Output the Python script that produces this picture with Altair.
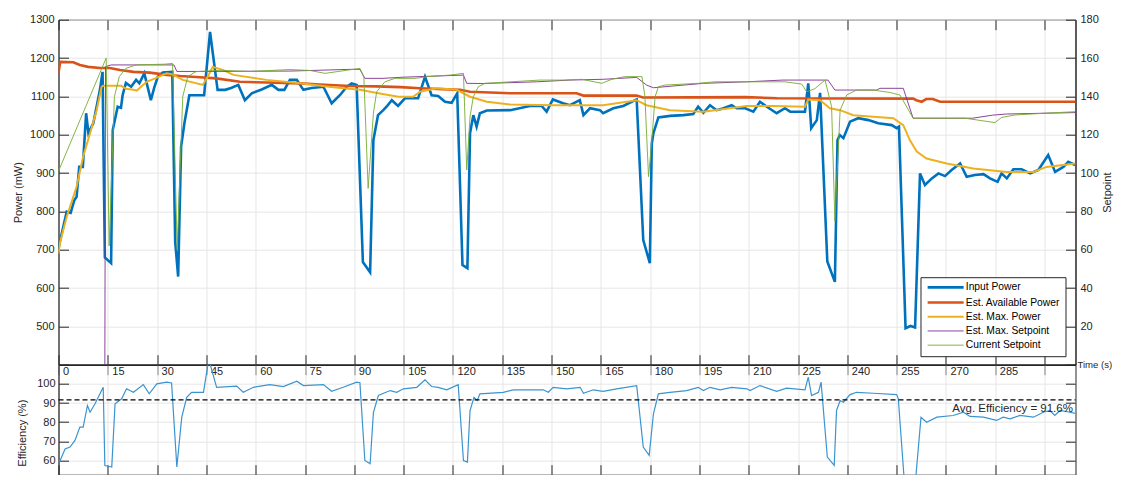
import altair as alt
import pandas as pd

# ---------------- data ----------------
time_in = [0, 1.0, 2.5, 3.7, 4.8, 5.5, 6.3, 7.4, 8.4, 9.1,
           10.6, 12.6, 13.4, 14.1, 16.0, 16.5, 18.0, 19.0, 19.5, 20.5,
           22.1, 23.6, 24.6, 26.1, 28.1, 29.1, 30.2, 31.7, 34.6, 35.5,
           36.4, 37.3, 38.3, 39.8, 44.3, 46.1, 48.4, 50.7, 52.5, 54.7,
           56.7, 58.8, 61.8, 64.9, 66.9, 68.7, 70.4, 72.5, 74.5, 77.0,
           80.6, 83.1, 85.6, 87.7, 89.2, 90.7, 92.6, 94.8, 95.8, 97.2,
           98.8, 99.8, 101.4, 103.3, 105.4, 109.4, 111.5, 113.5, 115.5, 117.6,
           119.6, 121.3, 122.9, 124.4, 125.2, 126.2, 127.2, 128.2, 130.3, 137.4,
           143.4, 147.0, 148.5, 150.4, 153.5, 155.6, 158.6, 159.7, 161.7, 164.7,
           165.7, 168.8, 171.8, 175.9, 177.9, 179.9, 180.5, 181.0, 182.5, 186.1,
           190.1, 193.1, 194.6, 196.2, 198.2, 200.2, 202.3, 204.8, 206.3, 208.9,
           211.4, 213.4, 215.5, 218.5, 221.0, 222.6, 227.1, 228.1, 229.0, 230.7,
           231.7, 233.9, 236.2, 237.0, 237.7, 238.8, 240.8, 243.3, 246.4, 249.4,
           253.5, 255.0, 255.7, 257.7, 259.2, 260.6, 262.1, 263.6, 265.7, 267.7,
           269.7, 271.7, 274.3, 276.3, 278.8, 281.4, 283.4, 285.7, 286.9, 288.5,
           290.5, 293.0, 295.6, 298.1, 301.1, 303.2, 305.7, 307.2, 309.3]
input_power = [705, 743, 799, 796, 829, 838, 916, 916, 1056, 1004,
               1030, 1117, 1164, 680, 665, 1012, 1073, 1070, 1103, 1135,
               1125, 1143, 1134, 1160, 1090, 1122, 1151, 1162, 1164, 720,
               630, 969, 1030, 1103, 1103, 1268, 1117, 1117, 1122, 1130,
               1090, 1108, 1118, 1130, 1117, 1117, 1143, 1143, 1117, 1122,
               1125, 1082, 1103, 1125, 1134, 1130, 668, 641, 986, 1051,
               1064, 1073, 1090, 1075, 1095, 1095, 1151, 1103, 1101, 1086,
               1083, 1108, 660, 652, 1004, 1051, 1021, 1056, 1063, 1064,
               1075, 1075, 1060, 1092, 1082, 1077, 1090, 1051, 1069, 1064,
               1056, 1069, 1075, 1092, 725, 665, 977, 1004, 1045, 1049,
               1051, 1054, 1073, 1057, 1077, 1064, 1069, 1077, 1069, 1069,
               1060, 1086, 1073, 1056, 1069, 1060, 1060, 1134, 1017, 1038,
               1109, 669, 616, 986, 999, 991, 1034, 1043, 1038, 1030,
               1025, 1017, 1021, 495, 501, 497, 899, 869, 886, 899,
               892, 908, 925, 890, 895, 897, 886, 877, 899, 886,
               910, 910, 899, 908, 947, 903, 916, 929, 921]

time_avail = [0, 0.5, 4.5, 6.5, 9.0, 12.6, 15.6, 18.7, 22.8, 27.8,
              32.9, 37.0, 43.0, 48.0, 55.2, 63.3, 73.5, 79.5, 88.7, 96.8,
              104.0, 110.0, 122.2, 125.2, 137.4, 157.6, 159.7, 175.9, 177.8, 209.0,
              218.5, 260.0, 261.0, 262.6, 264.0, 266.0, 268.2, 309.4]
avail_power = [1160, 1190, 1189, 1182, 1177, 1174, 1174, 1169, 1164, 1162,
               1156, 1153, 1150, 1147, 1138, 1136, 1134, 1131, 1127, 1126,
               1124, 1121, 1117, 1112, 1108, 1108, 1102, 1102, 1097, 1098,
               1095, 1094, 1090, 1086, 1093, 1093, 1086, 1086]

time_max = [0, 0.5, 2.5, 5.5, 7.5, 9.6, 11.6, 13.1, 13.6, 19.0,
            20.5, 22.8, 23.8, 26.8, 29.4, 32.9, 34.5, 37.8, 43.9, 45.4,
            46.9, 50.0, 53.2, 63.3, 73.5, 83.6, 91.7, 97.3, 103.4, 107.9,
            110.0, 115.0, 121.1, 125.2, 130.3, 137.4, 150.5, 165.7, 175.9, 178.9,
            186.0, 196.2, 209.4, 217.4, 227.1, 228.1, 231.7, 234.7, 237.8, 241.8,
            247.9, 254.0, 257.0, 259.0, 261.1, 264.1, 270.2, 278.3, 288.5, 296.6,
            300.6, 309.4]
max_power = [690, 720, 786, 864, 943, 1004, 1064, 1125, 1128, 1128,
             1120, 1117, 1115, 1138, 1147, 1160, 1158, 1143, 1130, 1151,
             1177, 1169, 1156, 1143, 1134, 1124, 1117, 1108, 1099, 1099,
             1112, 1121, 1117, 1099, 1086, 1079, 1077, 1077, 1090, 1077,
             1064, 1060, 1075, 1075, 1073, 1092, 1090, 1069, 1064, 1051,
             1047, 1043, 1025, 986, 956, 938, 925, 912, 903, 903,
             916, 925]

time_maxsp = [14.1, 14.3, 16.0, 35.1, 36.0, 43.0, 70.4, 89.0, 91.7, 93.2,
              98.7, 104.8, 123.2, 124.2, 129.1, 145.5, 155.6, 165.7, 175.9, 178.9,
              181.0, 196.2, 209.4, 220.4, 234.1, 236.2, 248.9, 249.9, 257.0, 260.0,
              278.1, 284.2, 288.5, 308.7, 309.4]
max_setpoint = [0, 155.5, 156.4, 156.4, 153.0, 153.0, 153.2, 154.1, 154.1, 149.4,
                149.4, 150.0, 151.1, 146.8, 146.7, 147.6, 148.5, 148.9, 149.9, 145.9,
                144.5, 146.8, 147.6, 148.5, 148.5, 143.3, 143.3, 144.2, 144.2, 128.6,
                128.6, 130.2, 130.8, 131.5, 131.6]

time_cursp = [0, 14.5, 15.4, 17.0, 18.5, 20.5, 23.6, 32.4, 34.7, 36.1,
              37.8, 39.3, 41.8, 49.1, 58.3, 70.4, 76.5, 81.1, 87.2, 91.7,
              92.9, 94.2, 95.8, 96.8, 99.3, 102.4, 108.5, 112.4, 119.1, 123.2,
              124.2, 125.2, 126.2, 127.7, 129.8, 146.5, 154.1, 159.2, 165.3, 168.3,
              172.3, 177.5, 178.4, 179.5, 180.6, 181.5, 182.5, 184.5, 194.6, 199.7,
              221.0, 226.1, 227.6, 230.1, 233.2, 235.2, 236.2, 237.8, 239.8, 242.8,
              247.9, 253.0, 256.0, 260.0, 275.8, 284.9, 286.9, 291.0, 300.0, 309.3]
cur_setpoint = [101, 160, 62, 139.8, 150.3, 154.6, 156.4, 156.8, 157.2, 60,
                139.8, 150.3, 152.9, 153.6, 153, 154, 153.5, 152, 153.5, 154.6,
                150, 92, 131.2, 142.4, 147.6, 149.4, 149.4, 150.3, 151.1, 152,
                101.6, 129.4, 139.8, 145, 146.8, 148.5, 148.5, 148.9, 146.8, 148.9,
                150.3, 150.3, 140, 98.1, 119, 139.8, 145, 145.9, 146.8, 147.6,
                147.6, 146.4, 142.4, 144, 148.5, 134.6, 75, 132.9, 140.7, 143.3,
                143.3, 142, 140.7, 128.6, 128.6, 126.3, 129, 130.3, 131.2, 132]

time_eff = [0, 0.5, 2.0, 3.5, 5.0, 6.5, 7.5, 8.8, 9.6, 11.1,
            13.6, 14.1, 16.2, 17.2, 19.2, 20.7, 22.8, 25.8, 27.6, 29.9,
            32.9, 34.4, 36.0, 37.5, 39.0, 40.5, 44.1, 45.5, 46.1, 48.1,
            54.2, 56.2, 59.3, 64.3, 68.4, 72.5, 74.5, 80.6, 83.1, 86.6,
            90.7, 91.7, 93.2, 94.8, 95.8, 97.3, 100.9, 102.9, 104.9, 109.0,
            111.5, 113.5, 115.5, 118.1, 121.6, 123.2, 124.4, 125.2, 126.4, 127.4,
            128.2, 135.3, 138.4, 147.5, 149.0, 150.5, 154.6, 158.7, 159.7, 162.7,
            165.7, 169.8, 175.9, 177.9, 179.7, 181.0, 182.5, 186.0, 191.1, 194.6,
            196.2, 198.2, 201.3, 204.8, 209.4, 210.4, 213.4, 218.5, 221.5, 227.1,
            228.1, 229.1, 231.2, 232.0, 233.9, 236.0, 236.7, 237.8, 238.8, 240.8,
            242.8, 247.9, 255.0, 255.5, 257.5, 260.5, 262.4, 264.1, 267.2, 272.2,
            275.3, 277.3, 281.4, 285.4, 287.4, 289.5, 292.5, 296.6, 299.6, 301.6,
            303.1, 304.7, 307.7, 309.4]
efficiency = [59, 60, 66, 67, 70.5, 77.4, 77.4, 88.7, 85.2, 89.6,
              98.2, 57.4, 56.6, 89.6, 92.2, 97.4, 95.6, 99.6, 94.8, 100,
              100.9, 100.5, 56.6, 82.6, 93, 95.6, 95.6, 110.5, 110.5, 98.2,
              98.8, 95.6, 98.2, 99.6, 98.6, 101.4, 99.1, 99.6, 96.1, 98.2,
              100.9, 100.6, 60, 58.3, 85, 93.9, 96.5, 95.6, 97.4, 98.2,
              102.1, 98.6, 98.2, 96.9, 99.6, 60, 59.2, 86.1, 93, 91.3,
              94.8, 95.6, 96.9, 96.9, 95.6, 98.2, 97.4, 98.2, 95.1, 96.9,
              96.1, 97.4, 99.1, 67, 62.7, 84.4, 94.8, 95.6, 96.5, 98.2,
              96.5, 98.2, 96.9, 98.2, 97.4, 96.5, 99.1, 96.1, 97.8, 96.9,
              103.5, 93.9, 95.6, 100.9, 61.8, 57.4, 86.1, 91.3, 90.4, 94.4,
              95.6, 95.1, 94.4, 92.2, 45, 45, 82.6, 80, 82.6, 83.5,
              85.2, 83, 82.6, 80.9, 82.6, 81.7, 83.5, 82.6, 85.2, 86.1,
              83.5, 86.1, 85.2, 84.6]

SERIES = ["Input Power", "Est. Available Power", "Est. Max. Power",
          "Est. Max. Setpoint", "Current Setpoint"]
COLORS = ["#0072BD", "#D95319", "#EDB120", "#7E2F8E", "#77AC30"]
WIDTHS = [2.6, 2.6, 2.0, 0.9, 0.9]

T_MAX = 309.4
X_TICKS = list(range(0, 301, 15))
AVG_EFF = 91.6
AVG_LABEL = "Avg. Efficiency = 91.6%"
LABEL_T = 308.6

FONT = "Liberation Sans"
INK = "#262626"


def frame(t, v, name):
    return pd.DataFrame({"t": t, "v": v, "series": name})


x_scale = alt.Scale(domain=[0, T_MAX], nice=False, zero=False)
p_scale = alt.Scale(domain=[400, 1300], nice=False, zero=False)
s_scale = alt.Scale(domain=[0, 180], nice=False, zero=False)
e_scale = alt.Scale(domain=[52.6, 110], nice=False, zero=False)

legend = alt.Legend(orient="none", legendX=862, legendY=257.5, title=None,
                    symbolType="M-6,0H6", symbolSize=36, symbolOffset=15,
                    labelFont=FONT, labelFontSize=10.3, labelColor="#000000",
                    fillColor="white", strokeColor=INK, padding=5, rowPadding=3.2,
                    labelOffset=15)
color = alt.Color("series:N", scale=alt.Scale(domain=SERIES, range=COLORS), legend=legend)
swidth = alt.StrokeWidth("series:N",
                         scale=alt.Scale(type="ordinal", domain=SERIES, range=WIDTHS),
                         legend=legend)

ax_x_main = alt.Axis(orient="bottom", values=X_TICKS, format="d",
                     labelExpr="datum.value >= 300 ? '' : datum.label",
                     tickSize=10, labelAlign="left", labelBaseline="top",
                     labelOffset=4, labelPadding=-9.5, labelFlush=False,
                     labelOverlap=False, grid=True, domain=True,
                     title="Time (s)", titleX=1018.5, titleY=0, titleAlign="left",
                     titleBaseline="middle", titleAngle=0, titleFontSize=9.6)
ax_x_toptick = alt.Axis(orient="top", values=X_TICKS, offset=-10, tickSize=10,
                        labels=False, domain=False, grid=False, title=None)
ax_p = alt.Axis(orient="left", values=list(range(500, 1301, 100)), format="d",
                ticks=False, labelPadding=4.5, grid=True, domain=True,
                title="Power (mW)", titleX=-40.5, titleY=172.5, titleAngle=270,
                titleBaseline="middle", titleAlign="center")
ax_p_tick = alt.Axis(orient="left", values=list(range(400, 1301, 100)), offset=-10,
                     tickSize=10, labels=False, domain=False, grid=False, title=None)
ax_s = alt.Axis(orient="right", values=list(range(20, 181, 20)), format="d",
                ticks=False, labelPadding=4.5, grid=False, domain=True,
                title="Setpoint", titleX=32.5, titleY=172.5, titleAngle=270,
                titleBaseline="middle", titleAlign="center")
ax_s_tick = alt.Axis(orient="right", values=list(range(0, 181, 20)), offset=-10,
                     tickSize=10, labels=False, domain=False, grid=False, title=None)


def line_layer(df, yscale, xaxis, yaxis):
    return alt.Chart(df).mark_line(clip=True).encode(
        x=alt.X("t:Q", scale=x_scale, axis=xaxis),
        y=alt.Y("v:Q", scale=yscale, axis=yaxis),
        color=color,
        strokeWidth=swidth,
    )


top = alt.layer(
    line_layer(frame(time_in, input_power, SERIES[0]), p_scale, ax_x_main, ax_p),
    line_layer(frame(time_avail, avail_power, SERIES[1]), p_scale, ax_x_toptick, ax_p_tick),
    line_layer(frame(time_max, max_power, SERIES[2]), p_scale, None, None),
    line_layer(frame(time_maxsp, max_setpoint, SERIES[3]), s_scale, None, ax_s),
    line_layer(frame(time_cursp, cur_setpoint, SERIES[4]), s_scale, None, ax_s_tick),
).resolve_scale(y="independent").resolve_axis(x="independent", y="independent").properties(
    width=1017, height=345)

eff_df = pd.DataFrame({"t": time_eff, "e": efficiency})
avg_df = pd.DataFrame({"t0": [0], "t1": [T_MAX], "e": [AVG_EFF]})
lab_df = pd.DataFrame({"t": [LABEL_T], "e": [AVG_EFF], "txt": [AVG_LABEL]})

eff_line = alt.Chart(eff_df).mark_line(clip=True, color="#3a94d0", strokeWidth=1.2).encode(
    x=alt.X("t:Q", scale=x_scale,
            axis=alt.Axis(orient="bottom", values=X_TICKS, offset=-10, tickSize=10,
                          labels=False, domain=False, grid=False, title=None)),
    y=alt.Y("e:Q", scale=e_scale,
            axis=alt.Axis(orient="left", values=list(range(60, 101, 10)), format="d",
                          ticks=False, labelPadding=3.5, grid=True, domain=True,
                          title="Efficiency (%)", titleX=-36, titleY=68, titleAngle=270,
                          titleBaseline="middle", titleAlign="center")),
)
avg_rule = alt.Chart(avg_df).mark_rule(color="#000000", strokeWidth=1.2, strokeDash=[5, 3]).encode(
    x=alt.X("t0:Q", scale=x_scale,
            axis=alt.Axis(orient="top", values=X_TICKS, tickSize=10, labels=False,
                          domain=True, grid=True, title=None)),
    x2="t1:Q",
    y=alt.Y("e:Q", scale=e_scale,
            axis=alt.Axis(orient="left", values=list(range(60, 101, 10)), offset=-10,
                          tickSize=10, labels=False, domain=False, grid=False, title=None)),
)
avg_text = alt.Chart(lab_df).mark_text(align="right", baseline="top", dy=3, font=FONT,
                                       fontSize=11.5, color=INK).encode(
    x=alt.X("t:Q", scale=x_scale, axis=None),
    y=alt.Y("e:Q", scale=e_scale,
            axis=alt.Axis(orient="right", values=list(range(60, 101, 10)), offset=-10,
                          tickSize=10, labels=False, domain=False, grid=False, title=None)),
    text="txt:N",
)
bottom = alt.layer(eff_line, avg_rule, avg_text).resolve_scale(y="independent").resolve_axis(
    x="independent", y="independent").properties(width=1017, height=110)

chart = alt.vconcat(top, bottom, spacing=0, bounds="flush").properties(
    autosize=alt.AutoSizeParams(type="none"),
    padding={"left": 50.5, "top": 11.7, "right": 38.5, "bottom": 455},
    background="white",
).configure_view(stroke=INK, strokeWidth=1).configure_axis(
    labelFont=FONT, labelFontSize=11, labelColor=INK, titleFont=FONT, titleFontSize=11,
    titleFontWeight="normal", titleColor=INK, domainColor=INK, tickColor=INK,
    gridColor="#e6e6e6", domainWidth=1, tickWidth=1,
)

chart.save("out.html", embed_options={"renderer": "svg", "actions": False})
